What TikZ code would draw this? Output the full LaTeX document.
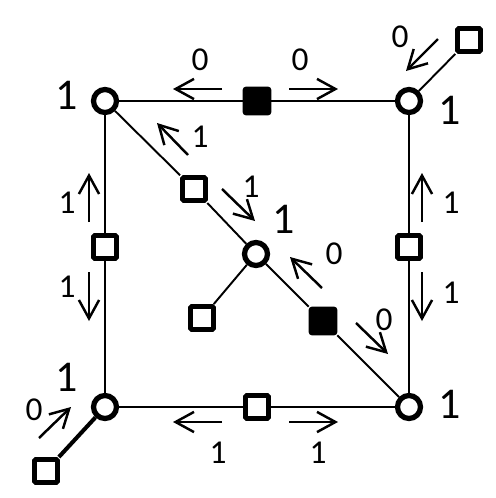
\documentclass[tikz,border=0pt]{standalone}
\usepackage{fontspec}
\setmainfont{Carlito}
\usetikzlibrary{arrows.meta}

\tikzset{
  vert/.style={circle, draw, line width=3pt, fill=white, minimum size=0.46cm, inner sep=0pt},
  cbox/.style={rectangle, draw, line width=2.8pt, fill=white, minimum size=0.46cm, inner sep=0pt, rounded corners=0.8pt},
  vbox/.style={rectangle, draw, fill=black, line width=1pt, minimum size=0.54cm, inner sep=0pt, rounded corners=1.5pt},
  link/.style={line width=1.1pt},
  flow/.style={line width=1.4pt, -{Straight Barb[length=10.5pt,width=11.5pt]}},
  big/.style={font=\fontsize{25}{25}\selectfont, inner sep=0pt},
  small/.style={font=\fontsize{19}{19}\selectfont, inner sep=0pt},
}

\begin{document}
\begin{tikzpicture}[x=0.02cm, y=-0.02cm]
        \useasboundingbox (0,0) rectangle (495,498);

        % Các đỉnh (hình tròn)
        \node[vert] (vtl) at (105,101) {};
        \node[vert] (vtr) at (409,101) {};
        \node[vert] (vbl) at (105,407) {};
        \node[vert] (vbr) at (409,407) {};
        \node[vert] (vc) at (256,254) {};

        % Các ô vuông
        \node[vbox] (ftop) at (257,101) {};
        \node[vbox] (fdiag) at (323,321) {};
        \node[cbox] (sleft) at (105,247) {};
        \node[cbox] (sright) at (409,247) {};
        \node[cbox] (sbot) at (257,407) {};
        \node[cbox] (sdiag) at (194,189) {};
        \node[cbox] (sc) at (202,318) {};
        \node[cbox] (str) at (469,40) {};
        \node[cbox] (sbl) at (46,471) {};

        % Các cạnh
        \draw[link] (vtl) -- (ftop) -- (vtr);
        \draw[link] (vtl) -- (sleft) -- (vbl);
        \draw[link] (vtr) -- (sright) -- (vbr);
        \draw[link] (vbl) -- (sbot) -- (vbr);
        \draw[link] (vtl) -- (sdiag) -- (vc) -- (fdiag) -- (vbr);
        \draw[link] (vc) -- (sc);
        \draw[link] (vtr) -- (str);
        \draw[line width=2.3pt] (vbl) -- (sbl);

        % Nhãn của các đỉnh
        \node[big] (ntl) at (67,95) {1};
        \node[big] (ntr) at (450,110) {1};
        \node[big] (nc) at (284,219) {1};
        \node[big] (nbl) at (67,377) {1};
        \node[big] (nbr) at (450,404) {1};

        % Các mũi tên
        \draw[flow] (222,89) -- (173,89);
        \node[small] (m1) at (200,60) {0};
        \draw[flow] (289,89) -- (338,89);
        \node[small] (m2) at (300,60) {0};
        \draw[flow] (438,39) -- (406,71);
        \node[small] (m3) at (400,37) {0};
        \draw[flow] (188,155) -- (157,123);
        \node[small] (m4) at (200,137) {1};
        \draw[flow] (222,189) -- (255,221);
        \node[small] (m5) at (251,187) {1};
        \draw[flow] (322,288) -- (290,257);
        \node[small] (m6) at (334,254) {0};
        \draw[flow] (356,323) -- (388,354);
        \node[small] (m7) at (384,320) {0};
        \draw[flow] (89,222) -- (89,173);
        \node[small] (m8) at (67,203) {1};
        \draw[flow] (89,272) -- (89,321);
        \node[small] (m9) at (67,287) {1};
        \draw[flow] (422,222) -- (422,173);
        \node[small] (m10) at (451,203) {1};
        \draw[flow] (422,272) -- (422,321);
        \node[small] (m11) at (451,293) {1};
        \draw[flow] (222,422) -- (173,422);
        \node[small] (m12) at (218,453) {1};
        \draw[flow] (289,422) -- (338,422);
        \node[small] (m13) at (318,453) {1};
        \draw[flow] (39,438) -- (71,407);
        \node[small] (m14) at (34,410) {0};

\end{tikzpicture}
\end{document}
